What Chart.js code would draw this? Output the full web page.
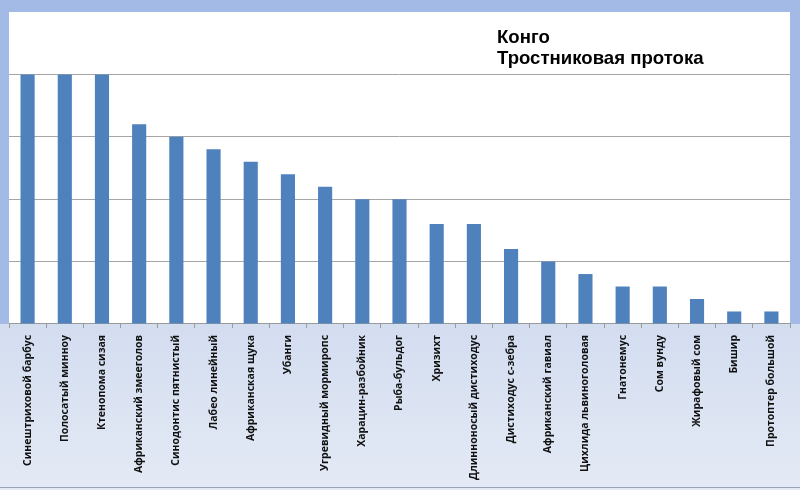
<!DOCTYPE html>
<html>
<head>
<meta charset="utf-8">
<script src="https://cdn.jsdelivr.net/npm/chart.js@4"></script>
<style>
  html, body { margin: 0; padding: 0; background: #fff; }
  #wrap { width: 800px; height: 490px; }
</style>
</head>
<body>
<div id="wrap"><canvas id="fishChart" width="800" height="490"></canvas></div>
<script>
const fishNames = [
    'Синештриховой барбус', 'Полосатый минноу', 'Ктенопома сизая', 'Африканский змееголов',
    'Синодонтис пятнистый', 'Лабео линейный', 'Африканская щука', 'Убанги',
    'Угревидный мормиропс', 'Харацин-разбойник', 'Рыба-бульдог', 'Хризихт',
    'Длинноносый дистиходус', 'Дистиходус с-зебра', 'Африканский гавиал', 'Цихлида львиноголовая',
    'Гнатонемус', 'Сом вунду', 'Жирафовый сом', 'Бишир', 'Протоптер большой'
];
const fishValues = [4, 4, 4, 3.2, 3, 2.8, 2.6, 2.4, 2.2, 2, 2, 1.6, 1.6, 1.2, 1, 0.8, 0.6, 0.6, 0.4, 0.2, 0.2];
const titleLines = ['Конго', 'Тростниковая протока'];

// frame: blue border strips, light label band, white plot area
const framePlugin = {
    id: 'frame',
    beforeDraw(chart) {
        const { ctx, chartArea: a, width, height } = chart;
        ctx.save();
        const g = ctx.createLinearGradient(0, a.bottom, 0, height);
        g.addColorStop(0, '#d3ddf0');
        g.addColorStop(1, '#e4eaf5');
        ctx.fillStyle = g;
        ctx.fillRect(0, 0, width, height);
        ctx.fillStyle = '#a3b9e6';
        ctx.fillRect(0, 0, width, a.top);
        ctx.fillRect(0, 0, a.left, a.bottom);
        ctx.fillRect(a.right, 0, width - a.right, a.bottom);
        ctx.fillStyle = '#ffffff';
        ctx.fillRect(a.left, a.top, a.right - a.left, a.bottom - a.top);
        ctx.fillStyle = '#9aa6b8';
        ctx.fillRect(0, height - 3, width, 1);
        ctx.restore();
    },
    afterDraw(chart) {
        const { ctx, chartArea: a } = chart;
        ctx.save();
        ctx.fillStyle = '#000';
        ctx.font = 'bold 18.6px "Liberation Sans", Arial, sans-serif';
        ctx.textBaseline = 'alphabetic';
        titleLines.forEach((t, i) => ctx.fillText(t, a.left + 488, a.top + 31 + i * 20.5));
        ctx.restore();
    }
};

new Chart(document.getElementById('fishChart').getContext('2d'), {
    type: 'bar',
    data: {
        labels: fishNames,
        datasets: [{
            data: fishValues,
            backgroundColor: '#4f81bd',
            barPercentage: 0.38,
            categoryPercentage: 1
        }]
    },
    options: {
        responsive: false,
        animation: false,
        layout: { padding: { left: 9, right: 10, top: 12, bottom: 3 } },
        plugins: { legend: { display: false }, tooltip: { enabled: false } },
        scales: {
            x: {
                grid: { drawOnChartArea: false, drawTicks: true, tickLength: 4, color: '#9a9a9a' },
                border: { color: '#9a9a9a' },
                ticks: {
                    minRotation: 90, maxRotation: 90, autoSkip: false, padding: 7,
                    color: '#111',
                    font: { family: '"Open Sans", sans-serif', size: 10.5, weight: 'bold' }
                }
            },
            y: {
                min: 0, max: 5,
                ticks: { display: false, stepSize: 1 },
                border: { display: false },
                grid: {
                    drawTicks: false,
                    color: c => (c.tick.value === 5 ? 'rgba(0,0,0,0)' : '#a6a6a6')
                }
            }
        }
    },
    plugins: [framePlugin]
});
</script>
</body>
</html>
